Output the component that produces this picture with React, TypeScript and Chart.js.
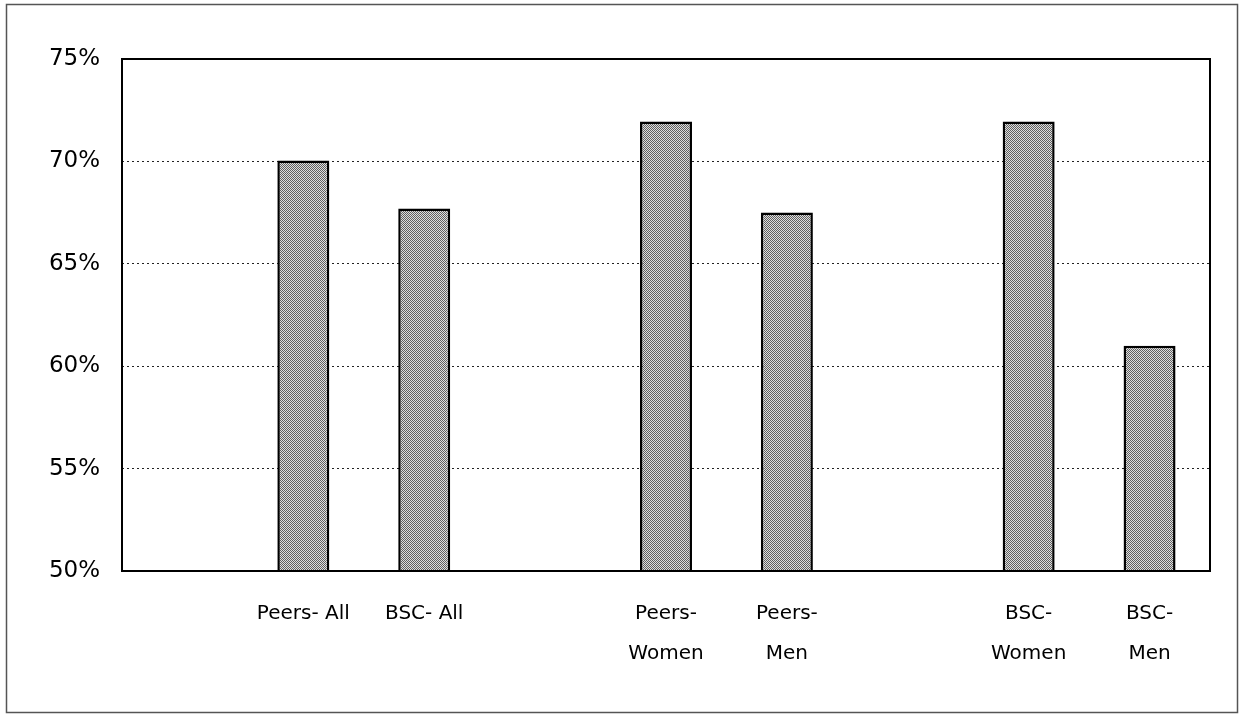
import React, { useEffect, useRef } from "react";
import { Chart, registerables } from "chart.js";

Chart.register(...registerables);

const categories: (string | string[])[] = [
  "",
  "Peers- All",
  "BSC- All",
  "",
  ["Peers-", "Women"],
  ["Peers-", "Men"],
  "",
  ["BSC-", "Women"],
  ["BSC-", "Men"],
];
const values: (number | null)[] = [null, 70.05, 67.7, null, 71.95, 67.5, null, 71.95, 61.0];
const yTicks: number[] = [50, 55, 60, 65, 70, 75];

function makePattern(): CanvasPattern | string {
  const c = document.createElement("canvas");
  c.width = 2;
  c.height = 2;
  const ctx = c.getContext("2d");
  if (!ctx) return "#aaaaaa";
  ctx.fillStyle = "#dedede";
  ctx.fillRect(0, 0, 2, 2);
  ctx.fillStyle = "#606060";
  ctx.fillRect(0, 0, 1, 1);
  ctx.fillRect(1, 1, 1, 1);
  const p = ctx.createPattern(c, "repeat");
  return p || "#aaaaaa";
}

const framePlugin = {
  id: "frame",
  afterDatasetsDraw(chart: any) {
    const { ctx, chartArea } = chart;
    ctx.save();
    ctx.strokeStyle = "#000";
    ctx.lineWidth = 2;
    ctx.strokeRect(chartArea.left, chartArea.top, chartArea.right - chartArea.left, chartArea.bottom - chartArea.top);
    ctx.restore();
  },
  afterDraw(chart: any) {
    const ctx = chart.ctx;
    ctx.save();
    ctx.strokeStyle = "#555";
    ctx.lineWidth = 1.5;
    ctx.strokeRect(6.5, 4.5, 1231, 708);
    ctx.restore();
  },
};

export default function App() {
  const ref = useRef<HTMLCanvasElement>(null);
  useEffect(() => {
    if (!ref.current) return;
    const pattern = makePattern();
    const chart = new Chart(ref.current, {
      type: "bar",
      data: {
        labels: categories,
        datasets: [
          {
            data: values,
            backgroundColor: pattern as any,
            borderColor: "#000",
            borderWidth: 2.5,
            borderSkipped: false,
            barPercentage: 0.43,
            categoryPercentage: 1,
          },
        ],
      },
      options: {
        responsive: false,
        animation: false,
        layout: { padding: { top: 59, right: 33, bottom: 0, left: 0 } },
        plugins: { legend: { display: false }, tooltip: { enabled: false } },
        scales: {
          x: {
            grid: { display: false, drawTicks: false },
            border: { display: false },
            ticks: {
              color: "#000",
              padding: 23,
              maxRotation: 0,
              autoSkip: false,
              font: { family: "DejaVu Sans", size: 20, lineHeight: 2.0 },
            },
            afterFit(scale: any) {
              scale.height = 144;
            },
          },
          y: {
            min: 50,
            max: 75,
            grid: {
              color: (c: any) => (c.tick && (c.tick.value === 50 || c.tick.value === 75) ? "rgba(0,0,0,0)" : "#222"),
              lineWidth: 1,
              drawTicks: false,
            },
            border: { display: false, dash: [2, 3] },
            ticks: {
              stepSize: 5,
              color: "#000",
              padding: 22,
              font: { family: "DejaVu Sans", size: 23 },
              callback: (v: any) => (yTicks.includes(Number(v)) ? `${v}%` : ""),
            },
            afterFit(scale: any) {
              scale.width = 122;
            },
          },
        },
      },
      plugins: [framePlugin],
    });
    return () => chart.destroy();
  }, []);
  return (
    <div style={{ position: "absolute", left: 0, top: 0, width: 1243, height: 715, background: "#fff" }}>
      <canvas ref={ref} width={1243} height={715} />
    </div>
  );
}
